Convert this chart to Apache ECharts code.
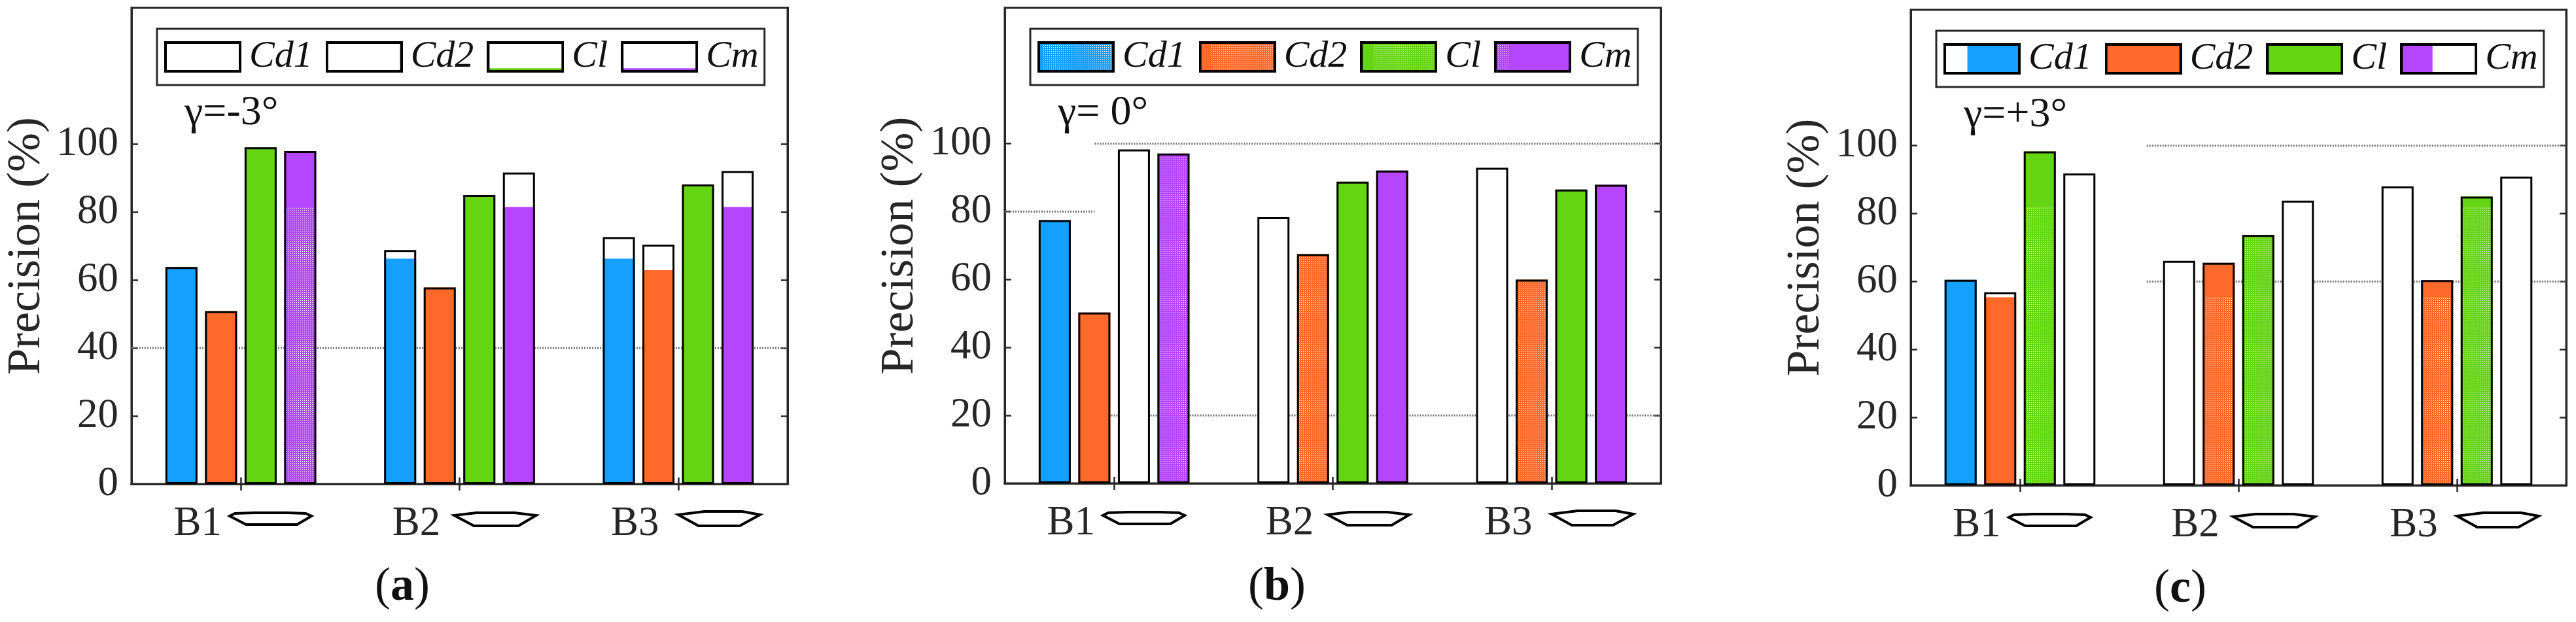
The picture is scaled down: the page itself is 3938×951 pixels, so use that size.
<!DOCTYPE html>
<html>
<head>
<meta charset="utf-8">
<style>html,body{margin:0;padding:0;background:#fff}#chart{width:3938px;height:951px}</style>
<script src="https://cdn.jsdelivr.net/npm/echarts@6/dist/echarts.min.js"></script>
</head>
<body>
<div id="chart"></div>
<script>
const blades = ['B1', 'B2', 'B3'];
const coefs = ['Cd1', 'Cd2', 'Cl', 'Cm'];
const yTicks = [0, 20, 40, 60, 80, 100];

// bar heights, top of the coloured part, top of the dotted part (panel a)
const aCd1 = [63.8, 68.8, 72.6], aCd1Fill = [63.8, 66.3, 66.3], aCd1Dot = [0, 0, 0];
const aCd2 = [50.8, 57.8, 70.4], aCd2Fill = [50.8, 57.8, 62.9], aCd2Dot = [0, 0, 0];
const aCl = [99, 85, 88.1], aClFill = [99, 85, 88.1], aClDot = [0, 0, 0];
const aCm = [97.9, 91.6, 92], aCmFill = [97.9, 81.5, 81.5], aCmDot = [81.5, 0, 0];
// panel b
const bCd1 = [77.5, 78.4, 92.9], bCd1Fill = [77.5, 0, 0], bCd1Dot = [0, 0, 0];
const bCd2 = [50.3, 67.5, 60], bCd2Fill = [50.3, 67.5, 60], bCd2Dot = [0, 67.5, 60];
const bCl = [98.3, 88.8, 86.5], bClFill = [0, 88.8, 86.5], bClDot = [0, 0, 0];
const bCm = [97.1, 92.1, 87.9], bCmFill = [97.1, 92.1, 87.9], bCmDot = [97.1, 0, 0];
// panel c
const cCd1 = [60.5, 66.1, 88], cCd1Fill = [60.5, 0, 0], cCd1Dot = [0, 0, 0];
const cCd2 = [56.8, 65.5, 60.4], cCd2Fill = [55.4, 65.5, 60.4], cCd2Dot = [0, 55.4, 55.4];
const cCl = [98.3, 73.7, 85], cClFill = [98.3, 73.7, 85], cClDot = [81.7, 73.7, 81.7];
const cCm = [91.8, 83.8, 90.9], cCmFill = [0, 0, 0], cCmDot = [0, 0, 0];

// leftover horizontal lines: [from, to, value], from/to as share of the plot width
const aRules = [[0, 1, 40]];
const bRules = [[0, 0.137, 80], [0.137, 1, 100], [0.162, 1, 20]];
const cRules = [[0.36, 1, 100], [0.36, 1, 60]];

const ink = '#262626';
const serif = 'Liberation Serif';
const colors = {Cd1: '#159fff', Cd2: '#ff6a2b', Cl: '#64d512', Cm: '#b545ff'};
const dotted = {
    symbol: 'rect', symbolSize: 1, color: 'rgba(255,255,255,0.95)',
    dashArrayX: [1, 2], dashArrayY: [1, 2], rotation: 0
};

// legend swatch: box to fill and box to dot, as [x0, x1, y0, y1] shares
function swatch(color, fill, dots) {
    const w = 118, h = 48;
    const cv = document.createElement('canvas');
    cv.width = w;
    cv.height = h;
    const ctx = cv.getContext('2d');
    ctx.fillStyle = '#fff';
    ctx.fillRect(0, 0, w, h);
    if (fill) {
        ctx.fillStyle = color;
        ctx.fillRect(fill[0] * w, fill[2] * h, (fill[1] - fill[0]) * w, (fill[3] - fill[2]) * h);
    }
    if (dots) {
        ctx.fillStyle = '#fff';
        for (let x = Math.round(dots[0] * w); x < dots[1] * w; x += 3) {
            for (let y = 0; y < h; y += 3) ctx.fillRect(x, y, 1, 1);
        }
    }
    ctx.strokeStyle = '#000';
    ctx.lineWidth = 4;
    ctx.strokeRect(2, 2, w - 4, h - 4);
    return 'image://' + cv.toDataURL();
}

const all = [0, 1, 0, 1];
const panels = [
    {
        left: 201, top: 12, width: 1003, height: 728, mark: 'a', gamma: 'γ=-3°', rules: aRules,
        bars: [aCd1, aCd2, aCl, aCm], fills: [aCd1Fill, aCd2Fill, aClFill, aCmFill], dots: [aCd1Dot, aCd2Dot, aClDot, aCmDot],
        keys: [[null, null], [null, null], [[0, 1, 0.86, 1], null], [[0, 1, 0.86, 1], null]]
    },
    {
        left: 1536, top: 12, width: 1003, height: 727, mark: 'b', gamma: 'γ= 0°', rules: bRules,
        bars: [bCd1, bCd2, bCl, bCm], fills: [bCd1Fill, bCd2Fill, bClFill, bCmFill], dots: [bCd1Dot, bCd2Dot, bClDot, bCmDot],
        keys: [[all, [0.08, 1]], [all, [0.16, 1]], [all, [0.18, 1]], [all, [0, 0.2]]]
    },
    {
        left: 2921, top: 15, width: 1002, height: 727, mark: 'c', gamma: 'γ=+3°', rules: cRules,
        bars: [cCd1, cCd2, cCl, cCm], fills: [cCd1Fill, cCd2Fill, cClFill, cCmFill], dots: [cCd1Dot, cCd2Dot, cClDot, cCmDot],
        keys: [[[0.31, 1, 0, 1], null], [all, null], [all, null], [[0, 0.42, 0, 1], null]]
    }
];

// blade outlines under the tick labels, px offset from the group centre and down from the axis
const bladeShapes = [
    [[-17, 49], [-9, 45], [21, 44], [71, 44], [99, 45], [108, 49], [86, 62], [8, 62]],
    [[-8, 48], [26, 44], [84, 44], [117, 48], [90, 64], [22, 64]],
    [[0, 47], [40, 42], [98, 42], [125, 47], [94, 64], [31, 64]]
];

const grid = [], xAxis = [], yAxis = [], series = [], legend = [], title = [];

panels.forEach((p, i) => {
    grid.push({
        left: p.left, top: p.top, width: p.width, height: p.height,
        show: true, borderColor: ink, borderWidth: 3, backgroundColor: 'transparent'
    });
    const line = {show: true, lineStyle: {color: ink, width: 3}};
    const tick = {show: true, inside: true, length: 10, alignWithLabel: true, lineStyle: {color: ink, width: 2.5}};
    const xBase = i * 3, yBase = i * 2;
    xAxis.push({
        gridIndex: i, type: 'category', data: blades, position: 'bottom',
        axisLine: line, axisTick: tick, splitLine: {show: false},
        axisLabel: {
            color: ink, fontFamily: serif, fontSize: 63, margin: 31,
            padding: [0, 132, 0, 0], lineHeight: 60
        }
    });
    xAxis.push({
        gridIndex: i, type: 'category', data: blades, position: 'top',
        axisLine: line, axisTick: tick, axisLabel: {show: false}, splitLine: {show: false}
    });
    xAxis.push({gridIndex: i, type: 'value', min: 0, max: 1, show: false});
    const tickY = {show: true, inside: true, length: 10, customValues: yTicks, lineStyle: {color: ink, width: 2.5}};
    yAxis.push({
        gridIndex: i, type: 'value', min: 0, max: 140, interval: 20, position: 'left',
        name: 'Precision (%)', nameLocation: 'middle', nameGap: 124,
        nameTextStyle: {color: ink, fontFamily: serif, fontSize: 72},
        axisLine: line, axisTick: tickY, splitLine: {show: false},
        axisLabel: {color: ink, fontFamily: serif, fontSize: 63, margin: 20, customValues: yTicks}
    });
    yAxis.push({
        gridIndex: i, type: 'value', min: 0, max: 140, interval: 20, position: 'right',
        axisLine: line, axisTick: tickY, axisLabel: {show: false}, splitLine: {show: false}
    });

    p.rules.forEach(r => {
        series.push({
            type: 'line', xAxisIndex: xBase + 2, yAxisIndex: yBase, z: 1, silent: true,
            showSymbol: false, data: [[r[0], r[2]], [r[1], r[2]]],
            lineStyle: {color: '#707070', width: 3, type: [2, 2]}
        });
    });

    coefs.forEach((name, k) => {
        const stackId = p.mark + name;
        const common = {
            type: 'bar', xAxisIndex: xBase, yAxisIndex: yBase, stack: stackId, z: 2,
            barWidth: 49, barGap: '23.5%', silent: true
        };
        const dot = p.dots[k];
        const fill = p.fills[k];
        series.push(Object.assign({}, common, {
            data: dot,
            itemStyle: {color: colors[name], decal: dotted}
        }));
        series.push(Object.assign({}, common, {
            data: fill.map((v, n) => v - dot[n]),
            itemStyle: {color: colors[name]}
        }));
        series.push(Object.assign({}, common, {
            data: p.bars[k].map((v, n) => v - fill[n]),
            itemStyle: {color: '#fff'}
        }));
    });
    coefs.forEach((name, k) => {
        series.push({
            name: name, type: 'bar', xAxisIndex: xBase + 1, yAxisIndex: yBase, z: 3, silent: true,
            barWidth: 49, barGap: '23.5%', data: p.bars[k],
            itemStyle: {color: 'transparent', borderColor: '#000', borderWidth: 3}
        });
    });

    legend.push({
        left: p.left + 39, top: p.top + 32, orient: 'horizontal', selectedMode: false,
        itemWidth: 118, itemHeight: 48, itemGap: 20, padding: [14, 9, 14, 11],
        borderColor: ink, borderWidth: 3,
        textStyle: {
            color: '#111', fontFamily: serif, fontStyle: 'italic', fontSize: 58,
            lineHeight: 48, padding: [0, 0, 0, 7]
        },
        data: coefs.map((name, k) => {
            const key = p.keys[k];
            const dots = key[1] ? [key[1][0], key[1][1]] : null;
            return {name: name, icon: swatch(colors[name], key[0], dots)};
        })
    });

    title.push({
        text: p.gamma, left: p.left + 81, top: p.top + 129, padding: 0,
        textStyle: {color: '#111', fontFamily: serif, fontWeight: 'normal', fontSize: 64}
    });
    title.push({
        text: '{n|(}{b|' + p.mark + '}{n|)}', left: p.left + 372, top: p.top + 850, padding: 0,
        textStyle: {
            rich: {
                n: {fontFamily: serif, fontSize: 72, color: '#111', fontWeight: 'normal'},
                b: {fontFamily: serif, fontSize: 72, color: '#111', fontWeight: 'bold'}
            }
        }
    });
});

const chart = echarts.init(document.getElementById('chart'));
chart.setOption({
    backgroundColor: '#fff',
    animation: false,
    title, legend, grid, xAxis, yAxis, series
});

// blade outlines sit next to the tick labels, so place them from the axis
const graphic = [];
panels.forEach((p, i) => {
    bladeShapes.forEach((shape, n) => {
        const cx = chart.convertToPixel({xAxisIndex: i * 3}, n);
        const base = p.top + p.height;
        graphic.push({
            type: 'polygon', silent: true,
            shape: {points: shape.map(q => [cx + q[0], base + q[1]])},
            style: {fill: '#fff', stroke: '#000', lineWidth: 4}
        });
    });
});
chart.setOption({graphic});
</script>
</body>
</html>
